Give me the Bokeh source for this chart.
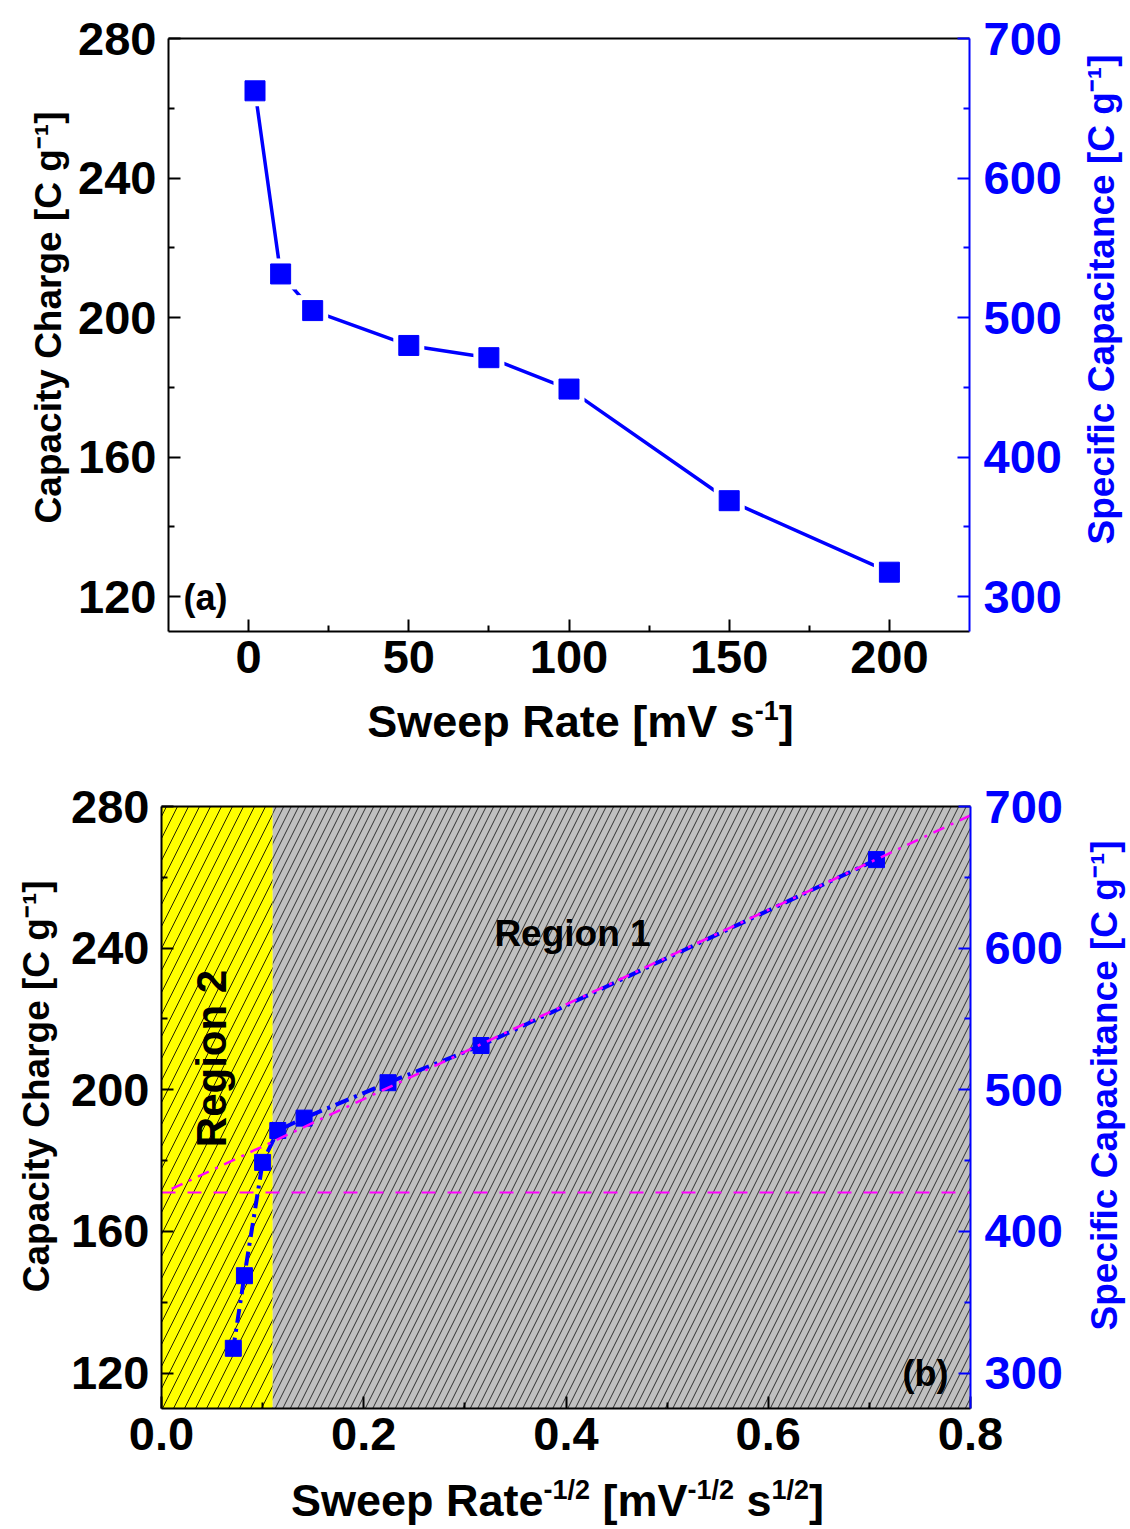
import math
from bokeh.plotting import figure
from bokeh.models import LinearAxis, Range1d, FixedTicker, Label, PrintfTickFormatter
from bokeh.layouts import column, row
from bokeh.embed import file_html
from bokeh.resources import INLINE

# ---------------- data ----------------
sweep_rate = [2, 10, 20, 50, 75, 100, 150, 200]                       # mV s^-1
capacity_charge = [265.0, 212.5, 202.0, 192.0, 188.5, 179.5, 147.5, 127.0]  # C g^-1
inv_sqrt_rate = [0.707, 0.316, 0.224, 0.141, 0.115, 0.100, 0.082, 0.071]
fit_x = [0.01, 0.80]
fit_y = [172.0, 277.5]
plateau_x = [0.0, 0.80]
plateau_y = [171.0, 171.0]
region2_x = [0.0, 0.11]
region1_x = [0.11, 0.80]
y_range_left = (110, 280)
y_range_right = (275, 700)
x_range_a = (-25, 225)
x_range_b = (0.0, 0.8)
y_ticks_left = [120, 160, 200, 240, 280]
y_minor_left = [140, 180, 220, 260]
y_ticks_right = [300, 400, 500, 600, 700]
y_minor_right = [350, 450, 550, 650]
x_ticks_a = [0, 50, 100, 150, 200]
x_minor_a = [25, 75, 125, 175]
x_ticks_b = [0.0, 0.2, 0.4, 0.6, 0.8]
x_minor_b = [0.1, 0.3, 0.5, 0.7]

FONT = "Liberation Sans"
BLUE = "#0000FF"
BLACK = "#000000"
MAGENTA = "#FF00FF"
TICK_FS = "47px"

left_title = "Capacity Charge [C g\u207b\u00b9]"
right_title = "Specific Capacitance [C g\u207b\u00b9]"
# horizontal titles as (text, font px, raise px, colour) pieces
x_title_a = [("Sweep Rate [mV s", 45, 0, BLACK), ("-1", 27, 16, BLACK), ("]", 45, 0, BLACK)]
x_title_b = [("Sweep Rate", 45, 0, BLACK), ("-1/2", 27, 16, BLACK), (" [mV", 45, 0, BLACK),
             ("-1/2", 27, 16, BLACK), (" s", 45, 0, BLACK), ("1/2", 27, 16, BLACK),
             ("]", 45, 0, BLACK)]

# Liberation Sans Bold advance widths (per 1000 em)
W = {' ': 278, '[': 333, ']': 333, '-': 333, '/': 278, '1': 556, '2': 556,
     'C': 722, 'S': 667, 'R': 722, 'V': 667, 'a': 556, 'c': 556, 'e': 556,
     'f': 333, 'g': 611, 'h': 611, 'i': 278, 'm': 889, 'n': 611, 'o': 611,
     'p': 611, 'r': 389, 's': 556, 't': 333, 'w': 778, 'y': 556}
MID = 0.32   # distance from baseline to the "middle" text anchor, in em

PAGE_W = 1130
RS_W = 52                 # right title strip width
LS_W_A, LS_W_B = 70, 62   # left title strip widths
TOP_H, STRIP_A_H = 693, 67
BOT_H, STRIP_B_H = 710, 59
TOP_Y0 = 0
STRIP_A_Y0 = TOP_H
BOT_Y0 = TOP_H + STRIP_A_H
STRIP_B_Y0 = BOT_Y0 + BOT_H


def tw(s, size):
    return sum(W.get(ch, 556) for ch in s) / 1000.0 * size


def strip(width, height, x0, y0):
    """Blank figure whose data coordinates equal page pixels (y pointing down)."""
    f = figure(width=width, height=height, output_backend="svg", toolbar_location=None,
               title=None, x_range=Range1d(x0, x0 + width), y_range=Range1d(y0 + height, y0),
               x_axis_type=None, y_axis_type=None,
               min_border_left=0, min_border_right=0, min_border_top=0, min_border_bottom=0)
    f.outline_line_color = None
    f.background_fill_color = "white"
    f.border_fill_color = "white"
    return f


def vstrip(width, height, x0, y0, text, color, center_y, baseline_x, size):
    """Blank figure (y pointing up) holding one upward-reading title."""
    f = figure(width=width, height=height, output_backend="svg", toolbar_location=None,
               title=None, x_range=Range1d(x0, x0 + width), y_range=Range1d(0, height),
               x_axis_type=None, y_axis_type=None,
               min_border_left=0, min_border_right=0, min_border_top=0, min_border_bottom=0)
    f.outline_line_color = None
    f.background_fill_color = "white"
    f.border_fill_color = "white"
    f.add_layout(Label(x=baseline_x - MID * size, y=(y0 + height) - center_y, text=text,
                       angle=math.pi / 2, text_font=FONT, text_font_style="bold",
                       text_font_size=f"{size}px", text_color=color,
                       text_align="center", text_baseline="middle"))
    return f


def place_pieces(p, pieces, center, baseline):
    total = sum(tw(t, s) for t, s, r, c in pieces)
    pos = center - total / 2
    for t, s, r, c in pieces:
        lead = len(t) - len(t.lstrip(' '))
        txt = t.strip(' ')
        adv = tw(' ' * lead, s)
        half = tw(txt, s) / 2
        x, y = pos + adv + half, baseline - r - MID * s
        pos += tw(t, s)
        p.add_layout(Label(x=x, y=y, text=txt, text_font=FONT, text_font_style="bold",
                           text_font_size=f"{s}px", text_color=c,
                           text_align="center", text_baseline="middle"))


def make_mapper(frame, xr, yr):
    fl, fr, ft, fb = frame

    def to_data(px, py):
        x = xr[0] + (px - fl) / (fr - fl) * (xr[1] - xr[0])
        y = yr[0] + (fb - py) / (fb - ft) * (yr[1] - yr[0])
        return x, y
    return to_data


def style_axis(ax, color, ticks, minor, fmt=None, standoff=12):
    ax.ticker = FixedTicker(ticks=ticks, minor_ticks=minor)
    ax.axis_line_color = color
    ax.axis_line_width = 2
    ax.major_tick_line_color = color
    ax.major_tick_line_width = 2
    ax.major_tick_in = 12
    ax.major_tick_out = 0
    ax.minor_tick_line_color = color
    ax.minor_tick_line_width = 2
    ax.minor_tick_in = 6
    ax.minor_tick_out = 0
    ax.major_label_text_color = color
    ax.major_label_text_font = FONT
    ax.major_label_text_font_style = "bold"
    ax.major_label_text_font_size = TICK_FS
    ax.major_label_standoff = standoff
    ax.axis_label = None
    if fmt is not None:
        ax.formatter = fmt


def make_fig(ls_w, height, frame_img, y0_img, xr, x_ticks, x_minor, x_fmt):
    fl, fr, ft, fb = frame_img
    main_w = PAGE_W - ls_w - RS_W
    p = figure(width=main_w, height=height, output_backend="svg", toolbar_location=None,
               title=None, x_range=Range1d(*xr), y_range=Range1d(*y_range_left),
               min_border_left=fl - ls_w, min_border_right=(ls_w + main_w) - fr,
               min_border_top=ft - y0_img, min_border_bottom=height - (fb - y0_img))
    p.outline_line_color = None
    p.grid.visible = False
    p.background_fill_color = "white"
    p.border_fill_color = "white"
    p.extra_y_ranges = {"right": Range1d(*y_range_right)}
    style_axis(p.yaxis[0], BLACK, y_ticks_left, y_minor_left)
    style_axis(p.xaxis[0], BLACK, x_ticks, x_minor, x_fmt, standoff=9)
    rax = LinearAxis(y_range_name="right")
    style_axis(rax, BLUE, y_ticks_right, y_minor_right, standoff=14)
    p.add_layout(rax, "right")
    tax = LinearAxis(ticker=FixedTicker(ticks=[]), major_label_text_font_size="0px",
                     axis_line_color=BLACK, axis_line_width=2,
                     major_tick_line_color=None, minor_tick_line_color=None)
    p.add_layout(tax, "above")
    return p


# ---------------- panel (a) ----------------
frame_a = (168, 969, 38, 631)       # page px: left, right, top, bottom
pa = make_fig(LS_W_A, TOP_H, frame_a, TOP_Y0, x_range_a, x_ticks_a, x_minor_a, None)
map_a = make_mapper(frame_a, x_range_a, y_range_left)

pa.line(sweep_rate, capacity_charge, line_color=BLUE, line_width=3.5)
pa.scatter(sweep_rate, capacity_charge, marker="square", size=31,
           fill_color="white", line_color=None)
pa.scatter(sweep_rate, capacity_charge, marker="square", size=20,
           fill_color=BLUE, line_color=BLUE)

xa, ya = map_a(183, 597)
pa.add_layout(Label(x=xa, y=ya, text="(a)", text_font=FONT, text_font_style="bold",
                    text_font_size="36px", text_color=BLACK, text_align="left",
                    text_baseline="middle"))

ls_a = vstrip(LS_W_A, TOP_H, 0, TOP_Y0, left_title, BLACK, 326, 60, 37)
rs_a = vstrip(RS_W, TOP_H, PAGE_W - RS_W, TOP_Y0, right_title, BLUE, 305, 1113, 37)
st_a = strip(PAGE_W, STRIP_A_H, 0, STRIP_A_Y0)
place_pieces(st_a, x_title_a, 580, 735)

# ---------------- panel (b) ----------------
frame_b = (161, 970, 806, 1408)
pb = make_fig(LS_W_B, BOT_H, frame_b, BOT_Y0, x_range_b, x_ticks_b, x_minor_b,
              PrintfTickFormatter(format="%.1f"))
map_b = make_mapper(frame_b, x_range_b, y_range_left)

pb.quad(left=region2_x[0], right=region2_x[1], bottom=y_range_left[0], top=y_range_left[1],
        fill_color="#FFFF00", line_color=None, hatch_pattern="/", hatch_color=BLACK,
        hatch_weight=1, hatch_scale=22, hatch_alpha=0.85)
pb.quad(left=region1_x[0], right=region1_x[1], bottom=y_range_left[0], top=y_range_left[1],
        fill_color="#C0C0C0", line_color=None, hatch_pattern="/", hatch_color=BLACK,
        hatch_weight=1, hatch_scale=15, hatch_alpha=0.75)

pb.line(inv_sqrt_rate, capacity_charge, line_color=BLUE, line_width=4, line_dash="14 6 3 6")
pb.scatter(inv_sqrt_rate, capacity_charge, marker="square", size=16,
           fill_color=BLUE, line_color=BLUE)
pb.line(fit_x, fit_y, line_color=MAGENTA, line_width=2.5, line_dash="12 7 3 7")
pb.line(plateau_x, plateau_y, line_color=MAGENTA, line_width=2, line_dash="14 12")

x1, y1 = map_b(572, 933)
pb.add_layout(Label(x=x1, y=y1, text="Region 1", text_font=FONT, text_font_style="bold",
                    text_font_size="37px", text_color=BLACK, text_align="center",
                    text_baseline="middle"))
x2, y2 = map_b(211, 1058)
pb.add_layout(Label(x=x2, y=y2, text="Region 2", angle=math.pi / 2, text_font=FONT,
                    text_font_style="bold", text_font_size="42px", text_color=BLACK,
                    text_align="center", text_baseline="middle"))
xb, yb = map_b(925, 1373)
pb.add_layout(Label(x=xb, y=yb, text="(b)", text_font=FONT, text_font_style="bold",
                    text_font_size="36px", text_color=BLACK, text_align="center",
                    text_baseline="middle"))

ls_b = vstrip(LS_W_B, BOT_H, 0, BOT_Y0, left_title, BLACK, 1090, 48, 37)
rs_b = vstrip(RS_W, BOT_H, PAGE_W - RS_W, BOT_Y0, right_title, BLUE, 1089, 1116, 37)
st_b = strip(PAGE_W, STRIP_B_H, 0, STRIP_B_Y0)
place_pieces(st_b, x_title_b, 557, 1514)

layout = column(row(ls_a, pa, rs_a), st_a, row(ls_b, pb, rs_b), st_b)
open("out.html", "w").write(file_html(layout, INLINE))
